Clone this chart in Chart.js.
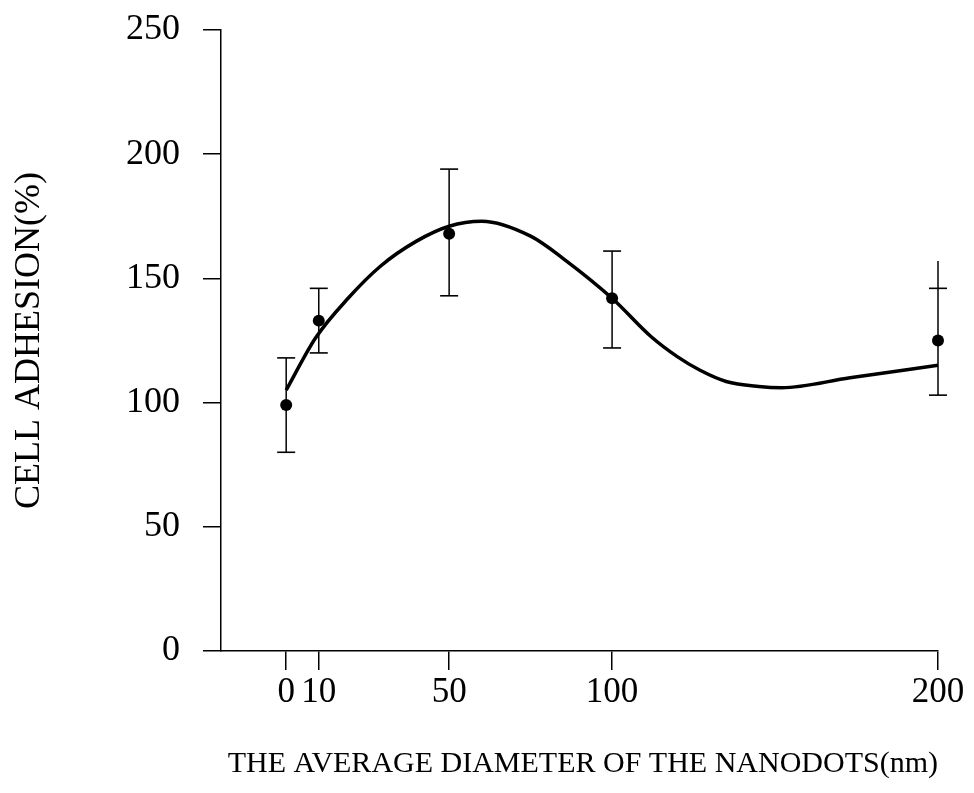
<!DOCTYPE html>
<html>
<head>
<meta charset="utf-8">
<script src="https://cdn.jsdelivr.net/npm/chart.js@4/dist/chart.umd.min.js"></script>
<style>
    body { margin: 0; background: #fff; }
    #wrap { width: 974px; height: 793px; }
</style>
</head>
<body>
<div id="wrap"><canvas id="adhesionChart" width="974" height="793"></canvas></div>
<script>
// Measured points (diameter in nm vs cell adhesion %)
const diameters = [0, 10, 50, 100, 200];
const adhesion = [99, 133, 168, 142, 125];
const errLow = [80, 120, 143, 122, 103];
const errHigh = [118, 146, 194, 161, 146];
const barTop = [118, 146, 194, 161, 157];

// Fitted curve
const fitX = [0, 9, 19, 29, 40, 50, 60, 75, 85, 100, 112, 120, 127, 135, 145, 152, 173, 200];
const fitY = [105, 126, 142, 155, 165, 171, 173, 167, 158, 142, 126.5, 118.5, 113, 108.5, 106.5, 106, 110, 115];

// Axis ticks
const xTicks = [0, 10, 50, 100, 200];
const yMin = 0, yMax = 250, yStep = 50;

const serif = 'Liberation Serif';

const datasets = [];

// fitted line
datasets.push({
    data: fitX.map((x, i) => ({ x: x, y: fitY[i] })),
    borderColor: '#000',
    borderWidth: 3.5,
    pointRadius: 0,
    cubicInterpolationMode: 'monotone',
    fill: false,
    clip: false
});

// error bars, one small line dataset each
diameters.forEach((d, i) => {
    datasets.push({
        data: [
            { x: d, y: errLow[i] },
            { x: d, y: errHigh[i] },
            { x: d, y: barTop[i] }
        ],
        borderColor: '#000',
        borderWidth: 1.5,
        pointStyle: 'line',
        pointRadius: [9, 9, 0],
        pointBorderWidth: 1.6,
        pointBorderColor: '#000',
        fill: false,
        clip: false
    });
});

// mean values
datasets.push({
    data: diameters.map((d, i) => ({ x: d, y: adhesion[i] })),
    showLine: false,
    pointRadius: 6,
    pointBackgroundColor: '#000',
    pointBorderColor: '#000',
    pointBorderWidth: 0,
    clip: false
});

const ctx = document.getElementById('adhesionChart').getContext('2d');
new Chart(ctx, {
    type: 'line',
    data: { datasets: datasets },
    options: {
        responsive: false,
        animation: false,
        layout: { padding: { top: 30, right: 36, left: 0, bottom: 0 } },
        plugins: {
            legend: { display: false },
            tooltip: { enabled: false }
        },
        scales: {
            x: {
                type: 'linear',
                min: -20,
                max: 200,
                afterBuildTicks: scale => {
                    scale.ticks = xTicks.map(v => ({ value: v }));
                },
                afterFit: scale => { scale.height = 142; },
                grid: {
                    drawOnChartArea: false,
                    tickLength: 19,
                    color: '#000',
                    lineWidth: 1.5
                },
                border: { color: '#000', width: 1.5 },
                ticks: {
                    color: '#000',
                    padding: 2,
                    maxRotation: 0,
                    font: { family: serif, size: 35 }
                },
                title: {
                    display: true,
                    text: 'THE AVERAGE DIAMETER OF THE NANODOTS(nm)',
                    align: 'end',
                    color: '#000',
                    padding: { top: 0, bottom: 11 },
                    font: { family: serif, size: 30 }
                }
            },
            y: {
                min: yMin,
                max: yMax,
                afterFit: scale => {
                    scale.width = 221;
                    scale.paddingTop = 0;
                    scale.paddingBottom = 0;
                },
                grid: {
                    drawOnChartArea: false,
                    tickLength: 18,
                    color: '#000',
                    lineWidth: 1.5
                },
                border: { color: '#000', width: 1.5 },
                ticks: {
                    stepSize: yStep,
                    color: '#000',
                    padding: 23,
                    font: { family: serif, size: 36 }
                },
                title: {
                    display: true,
                    text: 'CELL ADHESION(%)',
                    color: '#000',
                    padding: { top: 8, bottom: 0 },
                    font: { family: serif, size: 36 }
                }
            }
        }
    }
});
</script>
</body>
</html>
